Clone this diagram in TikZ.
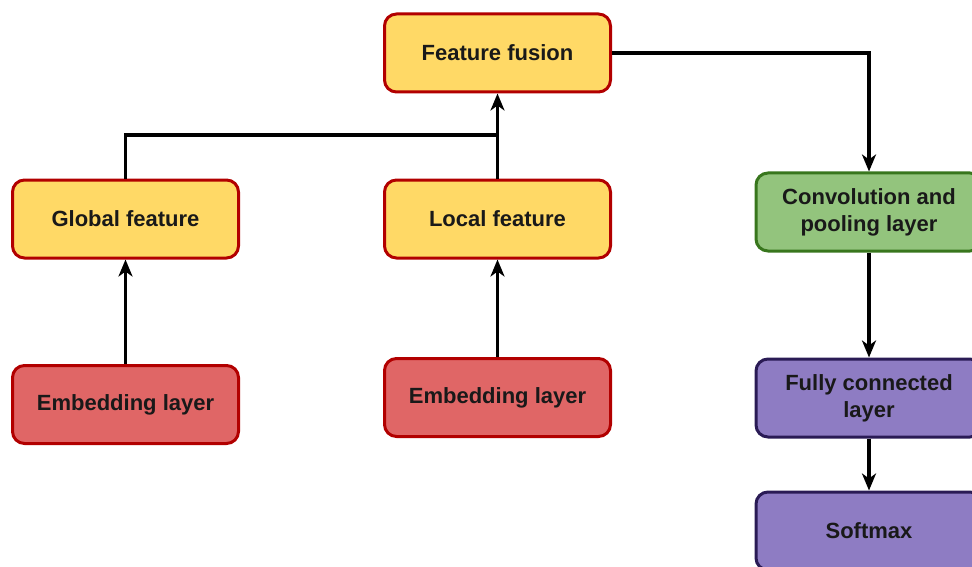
\documentclass[tikz,border=0pt]{standalone}
\usepackage{fontspec}
\setmainfont{Liberation Sans}
\usetikzlibrary{arrows.meta}
\definecolor{yfill}{HTML}{FFD966}
\definecolor{rborder}{HTML}{B20000}
\definecolor{rfill}{HTML}{E06666}
\definecolor{gfill}{HTML}{93C47D}
\definecolor{gborder}{HTML}{38761D}
\definecolor{pfill}{HTML}{8E7CC3}
\definecolor{pborder}{HTML}{2A1B55}
\tikzset{
  box/.style={rectangle, rounded corners=12pt, line width=3pt, minimum width=226pt, minimum height=78pt, align=center, font=\bfseries\fontsize{22}{27}\selectfont, inner sep=0pt, text=black!90},
  ybox/.style={box, draw=rborder, fill=yfill},
  rbox/.style={box, draw=rborder, fill=rfill},
  gbox/.style={box, draw=gborder, fill=gfill},
  pbox/.style={box, draw=pborder, fill=pfill},
  conn/.style={line width=3.2pt, -{Stealth[length=17pt,width=14pt,inset=5pt]}},
  plain/.style={line width=3.2pt}
}
\begin{document}
\begin{tikzpicture}[x=1pt,y=-1pt]
\useasboundingbox (0,0) rectangle (972,567);
\clip (0,0) rectangle (972,567);
\node[ybox] (fusion) at (497.5,53) {Feature fusion};
\node[ybox] (global) at (125.5,219) {Global feature};
\node[ybox] (local) at (497.5,219) {Local feature};
\node[rbox] (emb1) at (125.5,404.5) {Embedding layer};
\node[rbox] (emb2) at (497.5,397.5) {Embedding layer};
\node[gbox] (conv) at (869,212) {Convolution and\\pooling layer};
\node[pbox] (fc) at (869,398) {Fully connected\\layer};
\node[pbox] (soft) at (869,531) {Softmax};
\coordinate (j) at (497.5,135);
\draw[plain] (global.north) |- (j);
\draw[conn] (local.north) -- (fusion.south);
\draw[conn] (emb1.north) -- (global.south);
\draw[conn] (emb2.north) -- (local.south);
\draw[conn] (fusion.east) -| (conv.north);
\draw[conn] (conv.south) -- (fc.north);
\draw[conn] (fc.south) -- (soft.north);
\end{tikzpicture}
\end{document}
